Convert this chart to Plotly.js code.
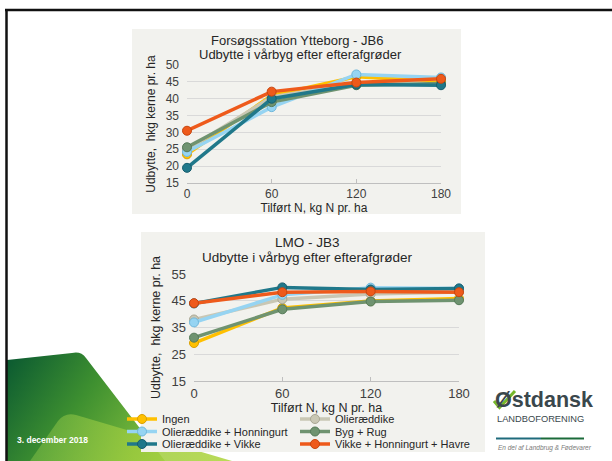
<!DOCTYPE html>
<html>
<head>
<meta charset="utf-8">
<script src="https://cdn.plot.ly/plotly-3.0.1.min.js"></script>
<style>html,body{margin:0;padding:0;background:#fff;}#chart{width:612px;height:461px;}</style>
</head>
<body>
<div id="chart"></div>
<script>
// ---------------- data ----------------
var nLevels = [0, 60, 120, 180];
var nTickLabels = ["0", "60", "120", "180"];
var seriesNames = ["Ingen", "Olieræddike", "Olieræddike + Honningurt", "Byg + Rug", "Olieræddike + Vikke", "Vikke + Honningurt + Havre"];

// Forsøgsstation Ytteborg - JB6
var yttIngen  = [23.5, 41.0, 46.5, 45.2];
var yttOlie   = [25.0, 40.5, 44.5, 46.0];
var yttHonn   = [24.2, 37.5, 47.2, 46.3];
var yttByg    = [25.6, 39.0, 44.0, 44.5];
var yttVikke  = [19.5, 40.0, 44.2, 44.0];
var yttHavre  = [30.5, 42.1, 44.8, 45.9];

// LMO - JB3
var lmoIngen  = [29.2, 42.3, 44.9, 45.8];
var lmoOlie   = [38.0, 45.6, 47.5, 48.3];
var lmoHonn   = [36.9, 47.2, 49.9, 49.6];
var lmoByg    = [31.2, 41.8, 44.7, 45.2];
var lmoVikke  = [44.0, 50.0, 49.2, 49.6];
var lmoHavre  = [44.1, 48.2, 48.5, 48.2];

// ---------------- styling ----------------
var lineColors   = ["#FFC000", "#C9C7B4", "#96D4F2", "#6F9370", "#20788A", "#EE5A1B"];
var markerEdges  = ["#D9A000", "#A9A795", "#6FB7DA", "#557A58", "#175E6E", "#C7460F"];
var FONT = "Liberation Sans, Arial, sans-serif";
var W = 612, H = 461;
function px(x) { return x / W; }
function py(y) { return 1 - y / H; }

// decorative green slide graphic (gradient) as an inline SVG image
var decoSvg =
  "<svg xmlns='http://www.w3.org/2000/svg' width='612' height='461' viewBox='0 0 612 461'>" +
  "<defs>" +
  "<linearGradient id='g1' gradientUnits='userSpaceOnUse' x1='10' y1='355' x2='165' y2='461'>" +
  "<stop offset='0' stop-color='#0B5A31'/><stop offset='0.45' stop-color='#3E9030'/><stop offset='1' stop-color='#8DC63F'/></linearGradient>" +
  "<linearGradient id='g2' gradientUnits='userSpaceOnUse' x1='40' y1='415' x2='232' y2='461'>" +
  "<stop offset='0' stop-color='#7DBB46' stop-opacity='0.55'/><stop offset='0.5' stop-color='#9CCB3E' stop-opacity='0.85'/><stop offset='1' stop-color='#B7D94E' stop-opacity='0.95'/></linearGradient>" +
  "</defs>" +
  "<path d='M7,360 L72,353 Q81,351 86,358 L165,461 L7,461 Z' fill='url(#g1)'/>" +
  "<path d='M30,461 L58,421 Q65,412 76,415 L232,461 Z' fill='url(#g2)'/>" +
  "</svg>";
var decoSrc = 'data:image/svg+xml;charset=utf-8,' + encodeURIComponent(decoSvg);

var ytt = [yttIngen, yttOlie, yttHonn, yttByg, yttVikke, yttHavre];
var lmo = [lmoIngen, lmoOlie, lmoHonn, lmoByg, lmoVikke, lmoHavre];
var legendIds = ["legend", "legend2", "legend3", "legend4", "legend5", "legend6"];

var traces = [];
ytt.forEach(function (vals, i) {
  traces.push({
    x: nLevels, y: vals, xaxis: 'x', yaxis: 'y', name: seriesNames[i],
    type: 'scatter', mode: 'lines+markers', showlegend: false, cliponaxis: false,
    line: { color: lineColors[i], width: 3.5 },
    marker: { color: lineColors[i], size: 9, line: { color: markerEdges[i], width: 1 } }
  });
});
lmo.forEach(function (vals, i) {
  traces.push({
    x: nLevels, y: vals, xaxis: 'x2', yaxis: 'y2', name: seriesNames[i],
    type: 'scatter', mode: 'lines+markers', showlegend: true, legend: legendIds[i], cliponaxis: false,
    line: { color: lineColors[i], width: 3.5 },
    marker: { color: lineColors[i], size: 9, line: { color: markerEdges[i], width: 1 } }
  });
});

var titleFont = { family: FONT, size: 12, color: '#262626' };

function xAxis(dom, anchor, fs) {
  return {
    domain: dom, anchor: anchor, range: [0, 180], tickvals: nLevels, ticktext: nTickLabels,
    showgrid: false, zeroline: false, showline: true, linecolor: '#BFBFBF', linewidth: 1,
    ticks: 'inside', ticklen: 4, tickcolor: '#BFBFBF', tickfont: { family: FONT, size: fs, color: '#404040' },
    fixedrange: true
  };
}
function yAxis(dom, anchor, rng, dt, fs) {
  return {
    domain: dom, anchor: anchor, range: rng, dtick: dt, tick0: 15,
    showgrid: true, gridcolor: '#D9D9D9', gridwidth: 1, zeroline: false, showline: false,
    ticks: '', ticklabelstandoff: 7, tickfont: { family: FONT, size: fs, color: '#404040' },
    fixedrange: true
  };
}

var xa1 = xAxis([px(187), px(441)], 'y', 12);
xa1.title = { text: 'Tilført N, kg N pr. ha', font: titleFont, standoff: 3 };
var ya1 = yAxis([py(183), py(65)], 'x', [15, 50], 5, 12);
ya1.title = { text: 'Udbytte,  hkg kerne pr. ha', font: titleFont, standoff: 7 };

var xa2 = xAxis([px(194), px(459)], 'y2', 13);
xa2.title = { text: 'Tilført N, kg N pr. ha', font: { family: FONT, size: 12.5, color: '#262626' }, standoff: 1 };
var ya2 = yAxis([py(381), py(274)], 'x2', [15, 55], 10, 13);
ya2.title = { text: 'Udbytte,  hkg kerne pr. ha', font: { family: FONT, size: 12.5, color: '#262626' }, standoff: 8 };

var shapes = [
  { type: 'rect', xref: 'paper', yref: 'paper', x0: px(132), x1: px(461), y0: py(214), y1: py(29), fillcolor: '#F2F2EE', line: { width: 0 }, layer: 'below' },
  { type: 'rect', xref: 'paper', yref: 'paper', x0: px(141), x1: px(485), y0: py(452), y1: py(232), fillcolor: '#F2F2EE', line: { width: 0 }, layer: 'below' },
  // slide border
  { type: 'line', xref: 'paper', yref: 'paper', x0: px(5), x1: 1, y0: py(10), y1: py(10), line: { color: '#111', width: 2.5 } },
  { type: 'line', xref: 'paper', yref: 'paper', x0: px(6.5), x1: px(6.5), y0: py(9), y1: 0, line: { color: '#111', width: 2.5 } },
  // logo lines and check mark
  { type: 'line', xref: 'paper', yref: 'paper', x0: px(496), x1: px(541), y0: py(438.5), y1: py(438.5), line: { color: '#1F6B7C', width: 2 } },
  { type: 'line', xref: 'paper', yref: 'paper', x0: px(541), x1: px(584), y0: py(438.5), y1: py(438.5), line: { color: '#1B6B3A', width: 2 } },
  { type: 'path', xref: 'paper', yref: 'paper', line: { color: '#76B82A', width: 3 }, fillcolor: 'rgba(0,0,0,0)',
    path: 'M' + px(494) + ',' + py(401) + ' L' + px(499.5) + ',' + py(407.5) + ' L' + px(515) + ',' + py(391) }
];

var annotations = [
  { text: 'Forsøgsstation Ytteborg - JB6', x: px(297), y: py(41), xref: 'paper', yref: 'paper', showarrow: false, xanchor: 'center', yanchor: 'middle', font: { family: FONT, size: 13, color: '#262626' } },
  { text: 'Udbytte i vårbyg efter efterafgrøder', x: px(300), y: py(55), xref: 'paper', yref: 'paper', showarrow: false, xanchor: 'center', yanchor: 'middle', font: { family: FONT, size: 13, color: '#262626' } },
  { text: 'LMO - JB3', x: px(307), y: py(242.5), xref: 'paper', yref: 'paper', showarrow: false, xanchor: 'center', yanchor: 'middle', font: { family: FONT, size: 13.5, color: '#262626' } },
  { text: 'Udbytte i vårbyg efter efterafgrøder', x: px(307), y: py(257), xref: 'paper', yref: 'paper', showarrow: false, xanchor: 'center', yanchor: 'middle', font: { family: FONT, size: 13.5, color: '#262626' } },
  { text: '<b>3. december 2018</b>', x: px(15), y: py(440), xref: 'paper', yref: 'paper', showarrow: false, xanchor: 'left', yanchor: 'middle', font: { family: FONT, size: 8.5, color: '#FFFFFF' } },
  { text: '<b>Østdansk</b>', x: px(493), y: py(400), xref: 'paper', yref: 'paper', showarrow: false, xanchor: 'left', yanchor: 'middle', font: { family: FONT, size: 21.5, color: '#3A474C' } },
  { text: 'LANDBOFORENING', x: px(495), y: py(419), xref: 'paper', yref: 'paper', showarrow: false, xanchor: 'left', yanchor: 'middle', font: { family: FONT, size: 9.3, color: '#3A474C' } },
  { text: '<i>En del af Landbrug &amp; Fødevarer</i>', x: px(496), y: py(448), xref: 'paper', yref: 'paper', showarrow: false, xanchor: 'left', yanchor: 'middle', font: { family: FONT, size: 6.5, color: '#7A7A7A' } }
];

var layout = {
  width: W, height: H, margin: { l: 0, r: 0, t: 0, b: 0 },
  paper_bgcolor: '#FFFFFF', plot_bgcolor: 'rgba(0,0,0,0)',
  font: { family: FONT, size: 12, color: '#262626' },
  xaxis: xa1, yaxis: ya1, xaxis2: xa2, yaxis2: ya2,
  images: [{ source: decoSrc, xref: 'paper', yref: 'paper', x: 0, y: 1, sizex: 1, sizey: 1,
             xanchor: 'left', yanchor: 'top', sizing: 'stretch', layer: 'below' }],
  shapes: shapes, annotations: annotations, hovermode: false
};
var legendPos = [[122, 419], [295, 419], [122, 431.5], [295, 431.5], [122, 444], [295, 444]];
legendIds.forEach(function (id, i) {
  layout[id] = {
    x: px(legendPos[i][0]), y: py(legendPos[i][1]), xanchor: 'left', yanchor: 'middle',
    bgcolor: 'rgba(0,0,0,0)', borderwidth: 0, orientation: 'h',
    font: { family: FONT, size: 11, color: '#262626' }, itemwidth: 30
  };
});

Plotly.newPlot('chart', traces, layout, { staticPlot: true, displayModeBar: false });
</script>
</body>
</html>
